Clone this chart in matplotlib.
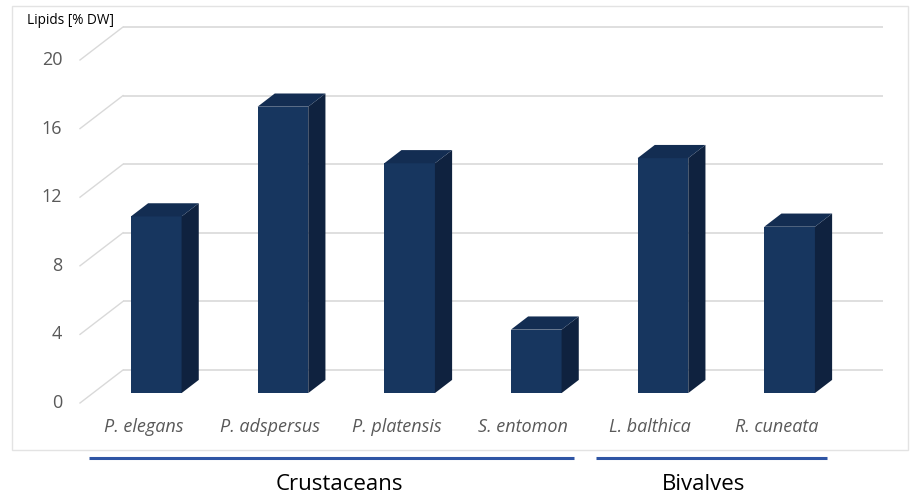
import matplotlib
matplotlib.use("Agg")
import matplotlib.pyplot as plt
from matplotlib.patches import Polygon, Rectangle

# ---- data ----
species = ["P. elegans", "P. adspersus", "P. platensis", "S. entomon", "L. balthica", "R. cuneata"]
lipids = [10.3, 16.7, 13.4, 3.7, 13.7, 9.7]
yticks = [0, 4, 8, 12, 16, 20]
groups = ["Crustaceans", "Bivalves"]
group_first = [0, 4]
group_last = [3, 5]

# ---- style ----
FONT = "Open Sans"
FRONT = "#17365F"
SIDE = "#0F223F"
TOP = "#132D52"
GRID = "#D9D9D9"
TEXT_GRAY = "#595959"
GROUP_BLUE = "#2F55A4"

W, H, DPI = 912, 497, 100
fig = plt.figure(figsize=(W / DPI, H / DPI), dpi=DPI)
ax = fig.add_axes([0, 0, 1, 1])
ax.set_axis_off()

# pixel layout of the front plane (x: category slots, y: value scale)
px_left, px_slot = 80.0, 126.67
py_zero, py_unit = 403.0, 17.15
ax.set_xlim((0 - px_left) / px_slot - 0.5, (W - px_left) / px_slot - 0.5)
ax.set_ylim((py_zero - H) / py_unit, (py_zero - 0) / py_unit)

# depth vector (full depth of the plot box) in data units
depth_dx = 43.0 / px_slot
depth_dy = 33.0 / py_unit
x_lo, x_hi = -0.5, len(species) - 0.5


def at_depth(x, y, d):
    return x + d * depth_dx, y + d * depth_dy


# back wall gridlines plus the diagonal side-wall lines
for t in yticks:
    bx0, by = at_depth(x_lo, t, 1.0)
    bx1, _ = at_depth(x_hi, t, 1.0)
    ax.plot([bx0, bx1], [by, by], color=GRID, lw=1.2, zorder=1, solid_capstyle="butt")
    ax.plot([x_lo, bx0], [t, by], color=GRID, lw=1.0, zorder=1)
    ax.text(x_lo - 0.14, t, str(t), ha="right", va="center", fontsize=13,
            color=TEXT_GRAY, family=FONT)

# 3D-looking bars
bar_w = 0.4
d0, d1 = 0.3, 0.7
for i, v in enumerate(lipids):
    xl, xr = i - bar_w / 2, i + bar_w / 2
    fl = at_depth(xl, 0, d0)
    fr = at_depth(xr, 0, d0)
    tl = at_depth(xl, v, d0)
    tr = at_depth(xr, v, d0)
    br_b = at_depth(xr, 0, d1)
    br_t = at_depth(xr, v, d1)
    bl_t = at_depth(xl, v, d1)
    ax.add_patch(Polygon([fl, fr, tr, tl], closed=True, facecolor=FRONT,
                         edgecolor="none", zorder=3))
    ax.add_patch(Polygon([fr, br_b, br_t, tr], closed=True, facecolor=SIDE,
                         edgecolor="none", zorder=3))
    ax.add_patch(Polygon([tl, tr, br_t, bl_t], closed=True, facecolor=TOP,
                         edgecolor="none", zorder=3))

# category labels
y_cat = (py_zero - 427) / py_unit
for i, name in enumerate(species):
    ax.text(i, y_cat, name, ha="center", va="center", fontsize=13,
            style="italic", color=TEXT_GRAY, family=FONT)

# group brackets and names
y_line = (py_zero - 457.5) / py_unit
y_group = (py_zero - 485) / py_unit
group_label_x = [1.55, 4.42]
for g, a, b, gx in zip(groups, group_first, group_last, group_label_x):
    ax.plot([a - 0.43, b + 0.40], [y_line, y_line], color=GROUP_BLUE, lw=2.2,
            zorder=2, solid_capstyle="butt")
    ax.text(gx, y_group, g, ha="center", va="center",
            fontsize=16, color="black", family=FONT)

# axis title
ax.text(27 / W, 1 - 21 / H, "Lipids [% DW]", transform=ax.transAxes,
        ha="left", va="center", fontsize=9.8, color="black", family=FONT)

# chart area frame
fig.add_artist(Rectangle((12 / W, 1 - 450 / H), (908 - 12) / W, (450 - 6) / H,
                         transform=fig.transFigure, fill=False,
                         edgecolor="#E3E3E3", lw=1.0))

fig.savefig("out.png", dpi=DPI, facecolor="white")
